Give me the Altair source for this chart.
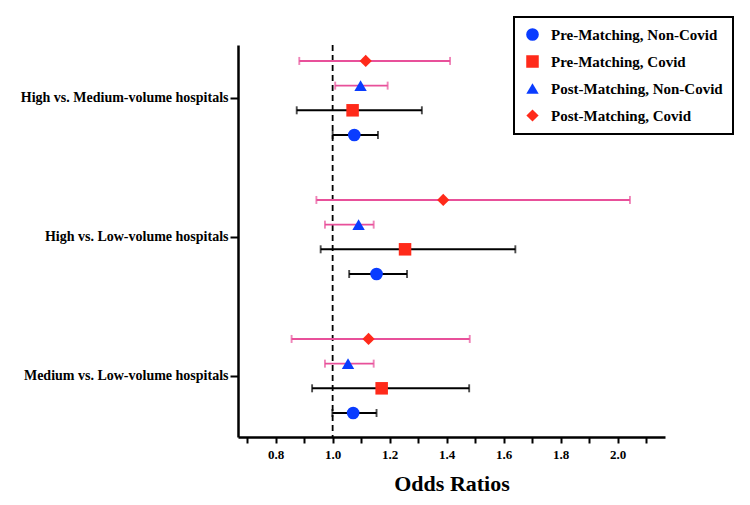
import altair as alt
import pandas as pd

comparisons = ["High vs. Medium-volume hospitals",
               "High vs. Low-volume hospitals",
               "Medium vs. Low-volume hospitals"]
series = ["Pre-Matching, Non-Covid", "Pre-Matching, Covid",
          "Post-Matching, Non-Covid", "Post-Matching, Covid"]

# odds ratios per comparison (order of series list)
or_pre_noncovid = [1.076, 1.154, 1.072]
lo_pre_noncovid = [1.000, 1.058, 0.999]
hi_pre_noncovid = [1.159, 1.261, 1.154]

or_pre_covid = [1.070, 1.254, 1.172]
lo_pre_covid = [0.874, 0.958, 0.928]
hi_pre_covid = [1.313, 1.641, 1.479]

or_post_noncovid = [1.098, 1.091, 1.054]
lo_post_noncovid = [1.009, 0.973, 0.973]
hi_post_noncovid = [1.193, 1.144, 1.144]

or_post_covid = [1.116, 1.388, 1.126]
lo_post_covid = [0.883, 0.943, 0.856]
hi_post_covid = [1.412, 2.043, 1.481]

x_ticks = [0.7, 0.8, 0.9, 1.0, 1.1, 1.2, 1.3, 1.4, 1.5, 1.6, 1.7, 1.8, 1.9, 2.0, 2.1]

ors = [or_pre_noncovid, or_pre_covid, or_post_noncovid, or_post_covid]
los = [lo_pre_noncovid, lo_pre_covid, lo_post_noncovid, lo_post_covid]
his = [hi_pre_noncovid, hi_pre_covid, hi_post_noncovid, hi_post_covid]

rows = []
for gi, comp in enumerate(comparisons):
    for si, s in enumerate(series):
        rows.append({"comparison": comp, "g": gi, "s": si, "series": s,
                     "or": ors[si][gi], "lo": los[si][gi], "hi": his[si][gi],
                     "phase": "pre" if si < 2 else "post"})
df = pd.DataFrame(rows)

FONT = "Liberation Serif"

base = alt.Chart(df).transform_calculate(
    ypos="datum.g + (1.5 - datum.s) * 0.1775"
)

xscale = alt.Scale(domain=[0.668, 2.166], nice=False, zero=False)
yscale = alt.Scale(domain=[-0.381, 2.439], reverse=True, nice=False, zero=False)

label_expr = ("datum.value == 0 ? 'High vs. Medium-volume hospitals' : "
              "datum.value == 1 ? 'High vs. Low-volume hospitals' : "
              "datum.value == 2 ? 'Medium vs. Low-volume hospitals' : ''")

xaxis = alt.Axis(title="Odds Ratios", values=x_ticks, tickCount=30, grid=False,
                 labelExpr="(round(datum.value*10) % 2 == 0) ? format(datum.value, '.1f') : ''",
                 labelOverlap=False,
                 labelFont=FONT, labelFontSize=13, labelFontWeight="bold", labelColor="black",
                 titleFont=FONT, titleFontSize=22, titleFontWeight="bold", titleColor="black",
                 domainColor="black", domainWidth=2.5, tickColor="black", tickWidth=2,
                 tickSize=6, labelPadding=5, titlePadding=12)
yaxis = alt.Axis(title=None, values=[0, 1, 2], tickCount=3, grid=False, labelExpr=label_expr,
                 labelLimit=400,
                 labelFont=FONT, labelFontSize=14, labelFontWeight="bold", labelColor="black",
                 domainColor="black", domainWidth=2.5, tickColor="black", tickWidth=2,
                 tickSize=8, labelPadding=2)

color_scale = alt.Scale(domain=["pre", "post"], range=["black", "#e8509a"])

bars = base.mark_rule(strokeWidth=1.9).encode(
    x=alt.X("lo:Q", scale=xscale, axis=xaxis),
    x2="hi:Q",
    y=alt.Y("ypos:Q", scale=yscale, axis=yaxis),
    color=alt.Color("phase:N", scale=color_scale, legend=None),
)
cap_lo = base.mark_tick(orient="vertical", size=8, thickness=1.9).encode(
    x=alt.X("lo:Q", scale=xscale),
    y=alt.Y("ypos:Q", scale=yscale),
    color=alt.Color("phase:N", scale=color_scale, legend=None),
)
cap_hi = base.mark_tick(orient="vertical", size=8, thickness=1.9).encode(
    x=alt.X("hi:Q", scale=xscale),
    y=alt.Y("ypos:Q", scale=yscale),
    color=alt.Color("phase:N", scale=color_scale, legend=None),
)

ref = alt.Chart(pd.DataFrame({"x": [1.0]})).mark_rule(
    color="black", strokeWidth=1.8, strokeDash=[6, 4]
).encode(x=alt.X("x:Q", scale=xscale))

point_colors = ["#0a3cff", "#ff2a1a", "#0a3cff", "#ff2a1a"]
shapes = ["circle", "square", "triangle-up", "diamond"]
sizes = [160, 150, 130, 90]

legend = alt.Legend(
    title=None, orient="none", legendX=276, legendY=-28,
    strokeColor="black", padding=10,
    labelFont=FONT, labelFontSize=15, labelFontWeight="bold", labelColor="black",
    rowPadding=11, labelOffset=11, symbolOffset=1,
    symbolStrokeWidth=0, labelLimit=300,
)

points = base.mark_point(filled=True, opacity=1).encode(
    x=alt.X("or:Q", scale=xscale),
    y=alt.Y("ypos:Q", scale=yscale),
    fill=alt.Fill("series:N", scale=alt.Scale(domain=series, range=point_colors),
                  legend=legend),
    shape=alt.Shape("series:N", scale=alt.Scale(domain=series, range=shapes),
                    legend=legend),
    size=alt.Size("series:N", scale=alt.Scale(domain=series, range=sizes),
                  legend=legend),
)

chart = alt.layer(ref, bars, cap_lo, cap_hi, points).resolve_scale(
    color="independent"
).properties(
    width=427, height=392,
    autosize=alt.AutoSizeParams(type="none"),
    padding={"left": 238, "top": 45, "right": 85, "bottom": 68},
).configure_view(stroke=None).configure_legend(strokeWidth=2)

chart.save("out.html", embed_options={"renderer": "svg", "actions": False})
